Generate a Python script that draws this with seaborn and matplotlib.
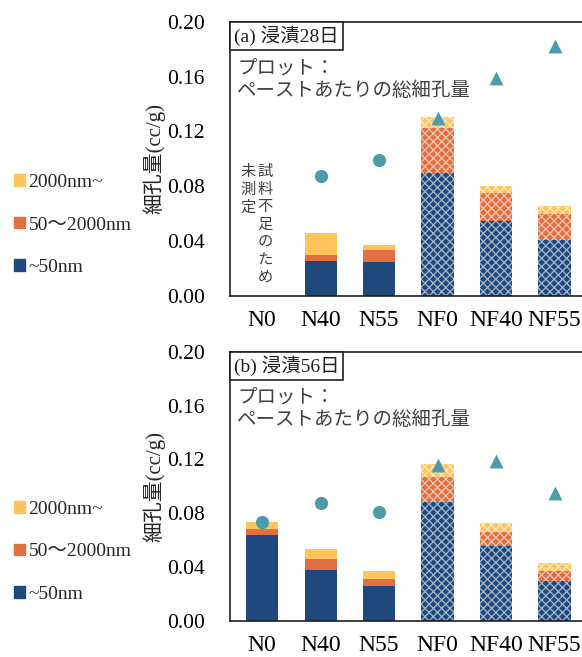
import numpy as np
import pandas as pd
import matplotlib
matplotlib.use("Agg")
import matplotlib.pyplot as plt
from matplotlib.patches import Rectangle
import seaborn as sns

sns.set_style("white")
plt.rcParams['font.family'] = ['Liberation Serif', 'Noto Sans CJK JP']
plt.rcParams['hatch.linewidth'] = 0.9

categories = ["N0", "N40", "N55", "NF0", "NF40", "NF55"]

# panel (a) 28 days  (N0 not measured)
a_small = [np.nan, 0.0252, 0.0245, 0.0900, 0.0543, 0.0407]   # ~50nm
a_mid = [np.nan, 0.0049, 0.0092, 0.0327, 0.0206, 0.0187]     # 50~2000nm
a_large = [np.nan, 0.0155, 0.0032, 0.0080, 0.0056, 0.0058]   # 2000nm~
a_total = [np.nan, 0.0873, 0.0989, 0.1300, 0.1588, 0.1828]   # paste total

# panel (b) 56 days
b_small = [0.0636, 0.0381, 0.0260, 0.0881, 0.0555, 0.0295]
b_mid = [0.0047, 0.0079, 0.0052, 0.0188, 0.0104, 0.0079]
b_large = [0.0054, 0.0072, 0.0059, 0.0099, 0.0066, 0.0057]
b_total = [0.0733, 0.0879, 0.0812, 0.1160, 0.1190, 0.0948]

legend_labels = ["2000nm~", "50\uff5e2000nm", "~50nm"]
panel_titles = ["(a) 浸漬28日", "(b) 浸漬56日"]
note_text = "プロット：\nペーストあたりの総細孔量"
missing_note = ["試料不足のため", "未測定"]
yticks = [0.00, 0.04, 0.08, 0.12, 0.16, 0.20]

C_BLUE = "#1f497d"
C_ORANGE = "#e07040"
C_YELLOW = "#ffc55c"
C_TEAL = "#4b9bab"
TXT = "#404040"

fig = plt.figure(figsize=(5.82, 6.57), dpi=100)
ax_a = fig.add_axes([230 / 582, (657 - 295.7) / 657, 352 / 582, 273.7 / 657])
ax_b = fig.add_axes([230 / 582, (657 - 621) / 657, 352 / 582, 269.3 / 657])


def draw_panel(ax, small, mid, large, total, title, legend_y, note_missing):
    df = pd.DataFrame({
        "cat": categories,
        "small": small,
        "mid": mid,
        "large": large,
        "total": total,
    })
    df["cum_mid"] = df["small"] + df["mid"]
    df["cum_large"] = df["cum_mid"] + df["large"]

    for col, colr in [("cum_large", C_YELLOW), ("cum_mid", C_ORANGE), ("small", C_BLUE)]:
        sub = df.dropna(subset=[col])
        n_before = len(ax.patches)
        sns.barplot(data=sub, x="cat", y=col, order=categories, color=colr,
                    saturation=1, width=0.55, errorbar=None, linewidth=0, ax=ax)
        for p in ax.patches[n_before:]:
            xc = p.get_x() + p.get_width() / 2
            if round(xc) >= 3:
                p.set_hatch("xxxx")
                p.set_edgecolor((1, 1, 1, 0.6))
                p.set_linewidth(0)

    circ = df[df["cat"].str.startswith("N") & ~df["cat"].str.startswith("NF")].dropna(subset=["total"])
    tri = df[df["cat"].str.startswith("NF")].dropna(subset=["total"])
    sns.stripplot(data=circ, x="cat", y="total", order=categories, jitter=False,
                  marker="o", color=C_TEAL, size=9.5, linewidth=0, ax=ax)
    sns.stripplot(data=tri, x="cat", y="total", order=categories, jitter=False,
                  marker="^", color=C_TEAL, size=10, linewidth=0, ax=ax)

    ax.set_xlim(-0.55, 5.47)
    ax.set_ylim(0, 0.20)
    ax.set_yticks(yticks)
    ax.set_yticklabels([f"{v:.2f}" for v in yticks])
    ax.tick_params(axis="y", length=0, pad=18, labelsize=15.5, colors="black")
    ax.tick_params(axis="x", length=0, pad=10, labelsize=17, colors="black")
    ax.set_xlabel("")
    ax.set_ylabel("細孔量(cc/g)", fontsize=15)
    ax.yaxis.set_label_coords(-0.183, 0.5)
    for s in ["left", "top", "bottom"]:
        ax.spines[s].set_visible(True)
        ax.spines[s].set_color("#202020")
        ax.spines[s].set_linewidth(1.2)
    ax.spines["right"].set_visible(False)

    ax.text(0.011, 0.986, title, transform=ax.transAxes, ha="left", va="top",
            fontsize=14, color="#202020",
            bbox=dict(boxstyle="square,pad=0.2", fc="white", ec="#202020", lw=1.2))
    ax.text(0.02, 0.86, note_text, transform=ax.transAxes, ha="left", va="top",
            fontsize=14, color=TXT, linespacing=1.25)

    if note_missing:
        for col_x, line in zip([0.05, -0.24], missing_note):
            ax.text(col_x, 0.097, "\n".join(line), ha="center", va="top",
                    fontsize=11, color=TXT, family="Noto Sans CJK JP",
                    linespacing=1.05)

    handles = [Rectangle((0, 0), 1, 1, color=c) for c in [C_YELLOW, C_ORANGE, C_BLUE]]
    fig.legend(handles, legend_labels, loc="center left",
               bbox_to_anchor=(14 / 582, legend_y), bbox_transform=fig.transFigure,
               frameon=False, fontsize=14, handlelength=0.55, handleheight=0.55,
               handletextpad=0.2, labelspacing=1.3, borderpad=0, borderaxespad=0)


draw_panel(ax_a, a_small, a_mid, a_large, a_total, panel_titles[0],
           (657 - 225) / 657, True)
draw_panel(ax_b, b_small, b_mid, b_large, b_total, panel_titles[1],
           (657 - 552) / 657, False)

fig.savefig("out.png", dpi=100)
